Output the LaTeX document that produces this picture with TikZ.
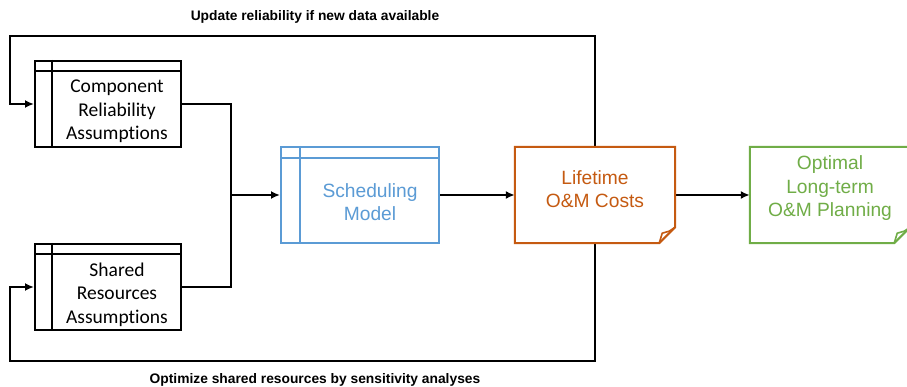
\documentclass[tikz,border=0pt]{standalone}
\usepackage{fontspec}
\setmainfont{Carlito}[Ligatures=NoCommon]
\newfontfamily\arial{Liberation Sans}
\usetikzlibrary{arrows.meta,calc}
\definecolor{schedblue}{HTML}{5B9BD5}
\definecolor{costorange}{HTML}{C55A11}
\definecolor{plangreen}{HTML}{70AD47}
\tikzset{
  flow/.style={line width=2.8pt, line join=miter},
  arrowed/.style={flow, -{Latex[length=9pt,width=8pt]}},
  storebox/.style={draw, line width=2pt, fill=white, inner sep=0pt,
    minimum width=146pt, minimum height=86pt},
  schedbox/.style={draw=schedblue, line width=2pt, fill=white, inner sep=0pt,
    minimum width=158pt, minimum height=96pt},
  notebox/.style={inner sep=0pt, minimum width=160pt, minimum height=96pt},
  boxtext/.style={align=center, inner sep=0pt, font=\fontsize{19.5}{23.5}\selectfont},
  colortext/.style={align=center, inner sep=0pt, font=\arial\fontsize{19.2}{23.5}\selectfont},
  looplabel/.style={inner sep=0pt, font=\arial\bfseries\fontsize{13.8}{16}\selectfont},
}
\begin{document}
\begin{tikzpicture}[x=1pt,y=-1pt]
\useasboundingbox (0,0) rectangle (907,387);

% corner points of the feedback loops and the merge point
\coordinate (tl) at (10,36);
\coordinate (bl) at (10,361);
\coordinate (merge) at (231,195);

% box placement
\node[storebox] (comp) at (108,104) {};
\node[storebox] (share) at (108,287) {};
\node[schedbox] (sched) at (360,195) {};
\node[notebox] (life) at (595,195) {};
\node[notebox] (opt) at (830,195) {};

% feedback loops from the cost box back to the assumptions
\draw[arrowed] (life.north) |- (tl) |- (comp.west);
\draw[arrowed] (life.south) |- (bl) |- (share.west);

% forward flow
\draw[flow] (comp.east) -| (merge);
\draw[flow] (share.east) -| (merge);
\draw[arrowed] (merge) -- (sched.west);
\draw[arrowed] (sched.east) -- (life.west);
\draw[arrowed] (life.east) -- (opt.west);

% assumption boxes with header strip and side bar
\foreach \b in {comp,share}{
  \node[storebox] at (\b) {};
  \draw[line width=1.8pt] ([xshift=18pt]\b.north west) -- ([xshift=18pt]\b.south west);
  \draw[line width=1.8pt] ([yshift=-11pt]\b.north west) -- ([yshift=-11pt]\b.north east);
}
\node[boxtext] (comptext) at (117,111.5) {Component\\Reliability\\Assumptions};
\node[boxtext] (sharetext) at (117,294.5) {Shared\\Resources\\Assumptions};

% scheduling model box
\node[schedbox] at (sched) {};
\draw[schedblue, line width=1.8pt] ([xshift=20pt]sched.north west) -- ([xshift=20pt]sched.south west);
\draw[schedblue, line width=1.8pt] ([yshift=-12pt]sched.north west) -- ([yshift=-12pt]sched.north east);
\node[colortext, text=schedblue] (schedtext) at (370,202) {Scheduling\\Model};

% note boxes with a curled bottom-right corner
\foreach \b/\c in {life/costorange,opt/plangreen}{
  \draw[\c, line width=2pt, fill=white, line join=miter]
    (\b.north west) -- (\b.north east) -- ([yshift=16pt]\b.south east)
    -- ([xshift=-16pt]\b.south east) -- (\b.south west) -- cycle;
  \draw[\c, line width=1.6pt, line join=round]
    ([xshift=-16pt]\b.south east) -- ([xshift=-13pt,yshift=10pt]\b.south east)
    -- ([xshift=-6pt,yshift=12pt]\b.south east) -- ([yshift=16pt]\b.south east);
}
\node[colortext, text=costorange] (lifetext) at (595,189) {Lifetime\\O\&M Costs};
\node[colortext, text=plangreen] (opttext) at (830,188.5) {Optimal\\Long-term\\O\&M Planning};

% loop labels
\node[looplabel] (toplabel) at (315,17) {Update reliability if new data available};
\node[looplabel] (botlabel) at (315,380) {Optimize shared resources by sensitivity analyses};
\end{tikzpicture}
\end{document}
